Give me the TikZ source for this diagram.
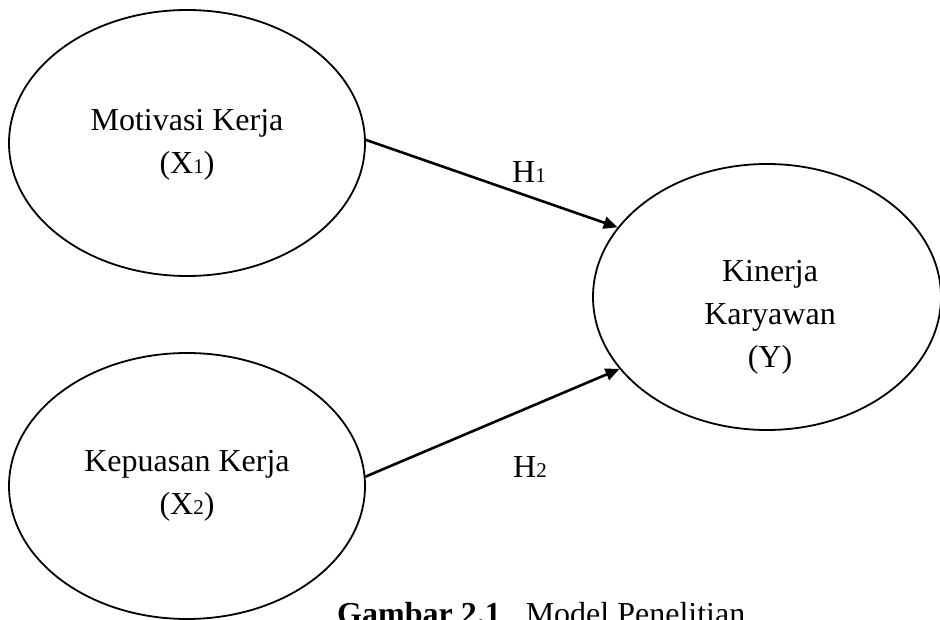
\documentclass[tikz,border=0pt]{standalone}
\usepackage{fontspec}
\setmainfont{Liberation Serif}
\usetikzlibrary{shapes.geometric,arrows.meta}
\tikzset{
  var/.style={draw=black, line width=1.8pt, ellipse, inner sep=0pt},
  txt/.style={anchor=base, inner sep=0pt, font=\fontsize{32}{40}\selectfont},
  conn/.style={line width=2.6pt, -{Triangle[length=14pt,width=12pt]}},
}
\newcommand{\smalldig}[1]{{\fontsize{21}{21}\selectfont #1}}
\begin{document}
\begin{tikzpicture}[x=1pt,y=-1pt]
\clip (0,0) rectangle (940,620);
\fill[white] (0,0) rectangle (940,620);
% ellipses
\node[var, minimum width=356pt, minimum height=266pt] (x1) at (187,143) {};
\node[var, minimum width=356pt, minimum height=266pt] (x2) at (187,486) {};
\node[var, minimum width=348pt, minimum height=266pt] (y) at (767,297) {};
% texts
\node[txt] (x1a) at (187,131) {Motivasi Kerja};
\node[txt] (x1b) at (187,174) {(X\smalldig{1})};
\node[txt] (x2a) at (187,471) {Kepuasan Kerja};
\node[txt] (x2b) at (187,514) {(X\smalldig{2})};
\node[txt] (ya) at (770,282) {Kinerja};
\node[txt] (yb) at (770,325) {Karyawan};
\node[txt] (yc) at (770,367) {(Y)};
% connectors
\draw[conn] (x1.1) -- (y.155);
\draw[conn] (x2.3) -- (y.206);
\node[txt] (h1) at (529,183) {H\smalldig{1}};
\node[txt] (h2) at (530,477) {H\smalldig{2}};
% caption
\node[anchor=base west, inner sep=0pt, font=\fontsize{32}{40}\selectfont] (cap) at (337,624) {\textbf{Gambar 2.1}\hspace*{17pt} Model Penelitian};
\end{tikzpicture}
\end{document}
